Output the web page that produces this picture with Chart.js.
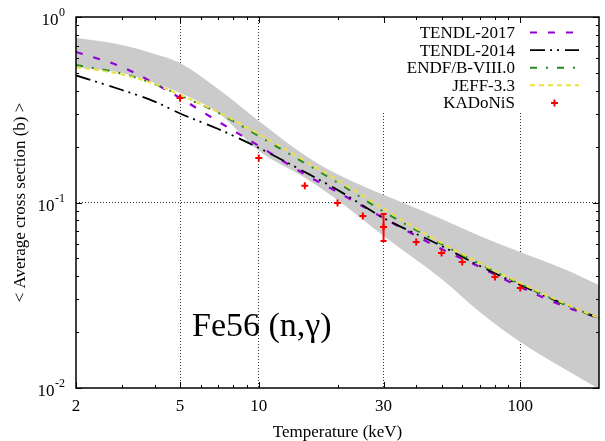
<!DOCTYPE html>
<html>
<head>
<meta charset="utf-8">
<script src="https://cdn.jsdelivr.net/npm/chart.js@4/dist/chart.umd.min.js"></script>
<style>
  html, body { margin: 0; padding: 0; background: #ffffff; }
  canvas { display: block; }
</style>
</head>
<body>
<canvas id="chart" width="605" height="441"></canvas>
<script>
// Temperature grid (keV) shared by the evaluated-library curves and the uncertainty band
const temps = [2, 3, 4, 5, 7, 10, 15, 20, 30, 50, 70, 100, 150, 200];

// Maxwellian-averaged cross sections (b)
const tendl2017 = [0.648, 0.538, 0.438, 0.366, 0.273, 0.202, 0.142, 0.114, 0.0825, 0.0561, 0.0449, 0.0350, 0.0273, 0.0238];
const tendl2014 = [0.484, 0.404, 0.350, 0.302, 0.249, 0.197, 0.146, 0.117, 0.0825, 0.0583, 0.0455, 0.0359, 0.0280, 0.0238];
const endf80    = [0.551, 0.495, 0.435, 0.378, 0.304, 0.228, 0.163, 0.128, 0.0894, 0.0597, 0.0466, 0.0363, 0.0280, 0.0238];
const jeff33    = [0.538, 0.490, 0.435, 0.380, 0.307, 0.234, 0.168, 0.132, 0.0925, 0.0605, 0.0472, 0.0368, 0.0283, 0.0238];

// Uncertainty band (b)
const bandUpper = [0.770, 0.707, 0.632, 0.565, 0.409, 0.275, 0.180, 0.142, 0.110, 0.0815, 0.0660, 0.0541, 0.0433, 0.0359];
const bandLower = [0.538, 0.499, 0.441, 0.389, 0.304, 0.190, 0.136, 0.103, 0.0660, 0.0387, 0.0257, 0.0177, 0.0125, 0.00988];

// KADoNiS recommended values (b) with the quoted uncertainty at 30 keV
const kadTemps   = [5, 10, 15, 20, 25, 30, 40, 50, 60, 80, 100];
const kadValues  = [0.366, 0.174, 0.123, 0.0994, 0.0845, 0.0738, 0.0612, 0.0534, 0.0478, 0.0397, 0.0346];
const kadErrLow  = [null, null, null, null, null, 0.0620, null, null, null, null, null];
const kadErrHigh = [null, null, null, null, null, 0.0867, null, null, null, null, null];

// Axis ticks
const xTickValues  = [2, 5, 10, 30, 100];
const xMinorValues = [3, 4, 6, 7, 8, 9, 20, 40, 50, 60, 70, 80, 90];
const yTickValues  = [1, 0.1, 0.01];
const yTickExponents = ['0', '-1', '-2'];
const yMinorValues = [0.02, 0.03, 0.04, 0.05, 0.06, 0.07, 0.08, 0.09, 0.2, 0.3, 0.4, 0.5, 0.6, 0.7, 0.8, 0.9];

const SERIF = "'Liberation Serif', 'Times New Roman', 'DejaVu Serif', serif";

const pts = (xs, ys) => xs.map((x, i) => ({ x: x, y: ys[i] }));

const curve = (label, values, color, dash, width, order) => ({
  label: label,
  data: pts(temps, values),
  borderColor: color,
  backgroundColor: color,
  borderWidth: width,
  borderDash: dash,
  pointRadius: 0,
  fill: false,
  cubicInterpolationMode: 'monotone',
  order: order
});

const datasets = [
  {
    label: 'band-upper',
    data: pts(temps, bandUpper),
    borderWidth: 0,
    borderColor: 'rgba(0,0,0,0)',
    backgroundColor: '#cbcbcb',
    pointRadius: 0,
    fill: '+1',
    cubicInterpolationMode: 'monotone',
    order: 6
  },
  {
    label: 'band-lower',
    data: pts(temps, bandLower),
    borderWidth: 0,
    borderColor: 'rgba(0,0,0,0)',
    pointRadius: 0,
    fill: false,
    cubicInterpolationMode: 'monotone',
    order: 7
  },
  curve('TENDL-2017', tendl2017, '#9400d3', [7, 11], 2.2, 5),
  curve('TENDL-2014', tendl2014, '#000000', [15, 5, 2, 5, 2, 6], 1.8, 4),
  curve('ENDF/B-VIII.0', endf80, '#228b22', [7, 9, 2, 9], 2, 3),
  curve('JEFF-3.3', jeff33, '#ece040', [5, 4], 2, 2),
  {
    label: 'KADoNiS',
    data: pts(kadTemps, kadValues),
    showLine: false,
    pointStyle: 'cross',
    pointRadius: 3.5,
    borderColor: '#ff0000',
    backgroundColor: '#ff0000',
    pointBorderWidth: 2,
    borderWidth: 2,
    order: 1
  }
];

const legendItems = [2, 3, 4, 5, 6];

const decorations = {
  id: 'decorations',
  beforeDatasetsDraw(chart) {
    // opaque key box: hides the grid lines underneath the legend
    const { ctx, chartArea: a } = chart;
    ctx.save();
    ctx.fillStyle = '#ffffff';
    ctx.fillRect(a.right - 223, a.top + 1, 222, 93);
    ctx.restore();
  },
  afterDatasetsDraw(chart) {
    // vertical error bars on the KADoNiS points
    const { ctx, scales: { x, y } } = chart;
    ctx.save();
    ctx.strokeStyle = '#ff0000';
    ctx.lineWidth = 2;
    kadTemps.forEach((t, i) => {
      if (kadErrLow[i] == null) return;
      const px = x.getPixelForValue(t);
      const lo = y.getPixelForValue(kadErrLow[i]);
      const hi = y.getPixelForValue(kadErrHigh[i]);
      ctx.beginPath();
      ctx.moveTo(px, lo); ctx.lineTo(px, hi);
      ctx.moveTo(px - 3, lo); ctx.lineTo(px + 3, lo);
      ctx.moveTo(px - 3, hi); ctx.lineTo(px + 3, hi);
      ctx.stroke();
    });
    ctx.restore();
  },
  afterDraw(chart) {
    const { ctx, chartArea: a, scales: { x, y } } = chart;
    ctx.save();

    // inward tick marks on all four sides
    ctx.strokeStyle = '#000000';
    ctx.lineWidth = 1;
    ctx.beginPath();
    const vTick = (v, len) => {
      const px = Math.round(x.getPixelForValue(v)) + 0.5;
      ctx.moveTo(px, a.bottom); ctx.lineTo(px, a.bottom - len);
      ctx.moveTo(px, a.top); ctx.lineTo(px, a.top + len);
    };
    const hTick = (v, len) => {
      const py = Math.round(y.getPixelForValue(v)) + 0.5;
      ctx.moveTo(a.left, py); ctx.lineTo(a.left + len, py);
      ctx.moveTo(a.right, py); ctx.lineTo(a.right - len, py);
    };
    xTickValues.forEach(v => vTick(v, 6));
    xMinorValues.forEach(v => vTick(v, 3));
    yTickValues.forEach(v => hTick(v, 6));
    yMinorValues.forEach(v => hTick(v, 3));
    ctx.stroke();

    // plot frame
    ctx.lineWidth = 1.5;
    ctx.strokeRect(a.left, a.top, a.right - a.left, a.bottom - a.top);

    // y tick labels as powers of ten
    ctx.fillStyle = '#000000';
    ctx.textAlign = 'right';
    ctx.textBaseline = 'alphabetic';
    const labelRight = a.left - 11;
    yTickValues.forEach((v, i) => {
      const py = y.getPixelForValue(v);
      ctx.font = '12px ' + SERIF;
      const sup = yTickExponents[i];
      const supW = ctx.measureText(sup).width;
      ctx.fillText(sup, labelRight, py - 1);
      ctx.font = '17px ' + SERIF;
      ctx.fillText('10', labelRight - supW - 0.5, py + 8);
    });

    // y axis title
    ctx.save();
    ctx.translate(21, (a.top + a.bottom) / 2);
    ctx.rotate(-Math.PI / 2);
    ctx.textAlign = 'center';
    ctx.textBaseline = 'middle';
    ctx.font = '17px ' + SERIF;
    ctx.fillText('< Average cross section (b) >', 0, 0);
    ctx.restore();

    // key
    ctx.font = '17px ' + SERIF;
    ctx.textAlign = 'right';
    ctx.textBaseline = 'middle';
    legendItems.forEach((di, row) => {
      const ds = chart.data.datasets[di];
      const ry = a.top + 15.5 + row * 17.6;
      ctx.fillStyle = '#000000';
      ctx.fillText(ds.label, a.right - 84, ry + 1);
      if (ds.showLine === false) {
        const cx = a.right - 44.5;
        ctx.strokeStyle = ds.borderColor;
        ctx.lineWidth = 2;
        ctx.setLineDash([]);
        ctx.beginPath();
        ctx.moveTo(cx - 3.5, ry); ctx.lineTo(cx + 3.5, ry);
        ctx.moveTo(cx, ry - 3.5); ctx.lineTo(cx, ry + 3.5);
        ctx.stroke();
      } else {
        ctx.strokeStyle = ds.borderColor;
        ctx.lineWidth = ds.borderWidth;
        ctx.setLineDash(ds.borderDash);
        ctx.beginPath();
        ctx.moveTo(a.right - 69, ry); ctx.lineTo(a.right - 20, ry);
        ctx.stroke();
        ctx.setLineDash([]);
      }
    });

    // reaction label
    ctx.fillStyle = '#000000';
    ctx.textAlign = 'left';
    ctx.textBaseline = 'alphabetic';
    ctx.font = '34px ' + SERIF;
    ctx.fillText('Fe56 (n,\u03b3)', a.left + 116, 336);

    ctx.restore();
  }
};

new Chart(document.getElementById('chart'), {
  type: 'line',
  data: { datasets: datasets },
  options: {
    responsive: false,
    animation: false,
    devicePixelRatio: 1,
    layout: { padding: { top: 17, right: 2, left: 0, bottom: 0 } },
    plugins: {
      legend: { display: false },
      tooltip: { enabled: false },
      filler: { propagate: false }
    },
    scales: {
      x: {
        type: 'logarithmic',
        min: 2,
        max: 200,
        afterBuildTicks: (scale) => { scale.ticks = xTickValues.map(v => ({ value: v })); },
        afterFit: (scale) => { scale.height = 53; },
        border: { display: false, dash: [1, 2] },
        grid: {
          drawTicks: false,
          lineWidth: 1,
          color: (ctx) => (ctx.tick && ctx.tick.value === 2) ? 'rgba(0,0,0,0)' : '#333333'
        },
        ticks: {
          autoSkip: false,
          maxRotation: 0,
          padding: 8,
          color: '#000000',
          font: { family: SERIF, size: 17 },
          callback: (v) => String(v)
        },
        title: {
          display: true,
          text: 'Temperature (keV)',
          color: '#000000',
          padding: 0,
          font: { family: SERIF, size: 17, lineHeight: 1 }
        }
      },
      y: {
        type: 'logarithmic',
        min: 0.01,
        max: 1,
        afterBuildTicks: (scale) => { scale.ticks = yTickValues.map(v => ({ value: v })); },
        afterFit: (scale) => { scale.width = 76; },
        border: { display: false, dash: [1, 2] },
        grid: {
          drawTicks: false,
          lineWidth: 1,
          color: (ctx) => (ctx.tick && ctx.tick.value === 0.1) ? '#333333' : 'rgba(0,0,0,0)'
        },
        ticks: { display: false }
      }
    }
  }
  ,
  plugins: [decorations]
});
</script>
</body>
</html>
